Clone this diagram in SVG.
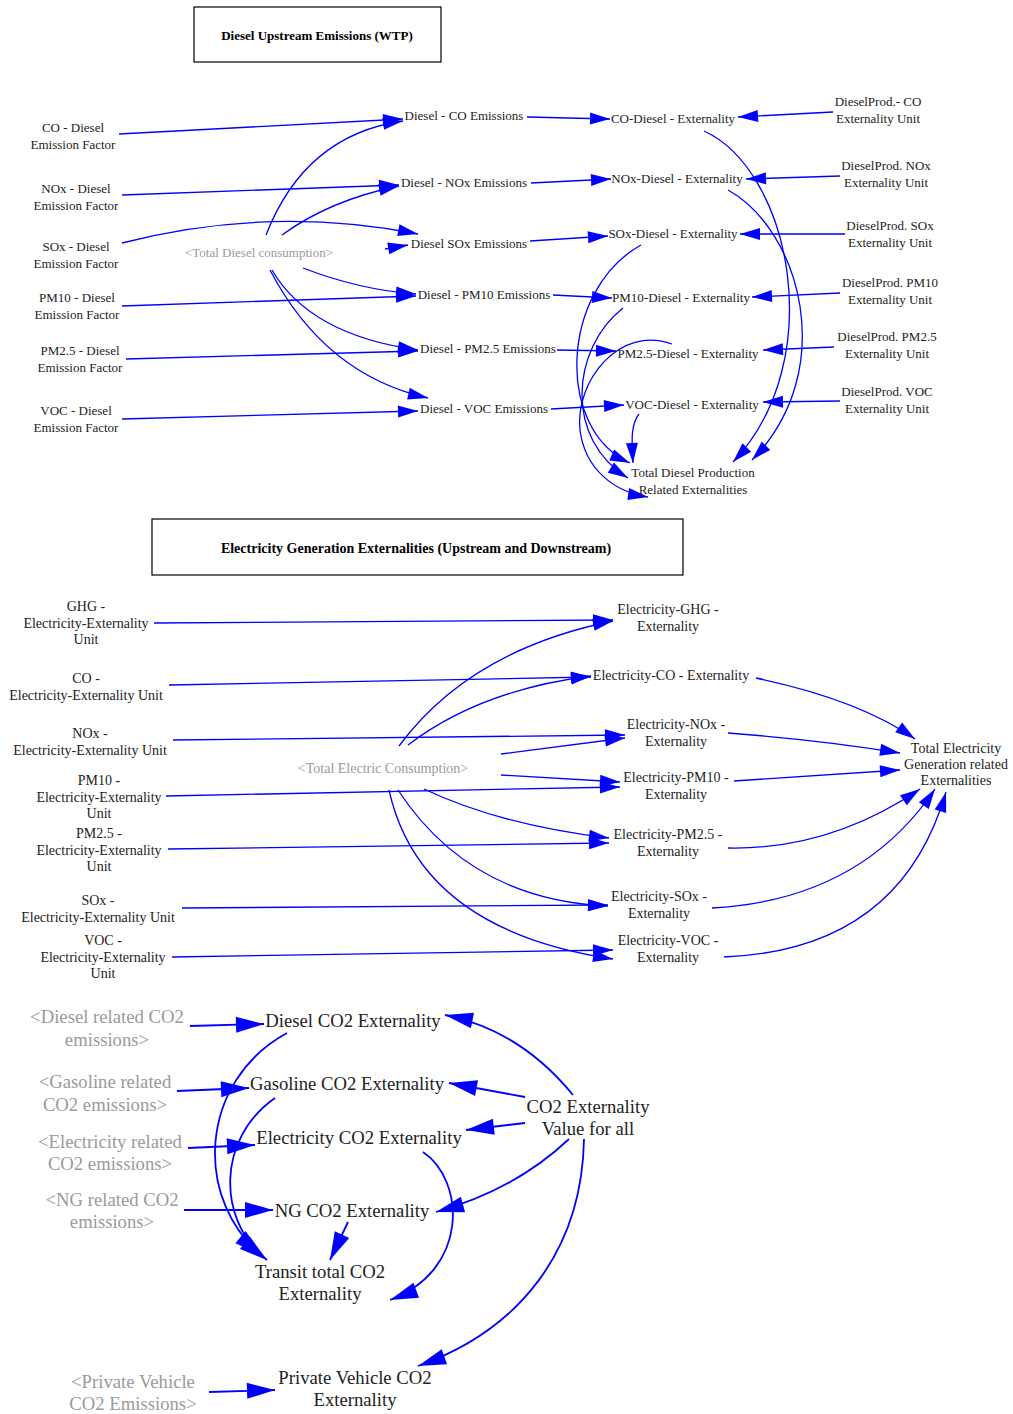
<svg xmlns="http://www.w3.org/2000/svg" width="1013" height="1414" viewBox="0 0 1013 1414">
<style>
text{font-family:"Liberation Serif","Times New Roman",serif;fill:#222;text-anchor:middle}
.s{font-size:13px}
.m{font-size:14px}
.l{font-size:18.7px}
.g{fill:#9a9a9a}
.t{font-size:13px;font-weight:bold;fill:#000}
.t2{font-size:14px;font-weight:bold;fill:#000}
.box{fill:none;stroke:#000;stroke-width:1.2}
.e{fill:none;stroke:#0000ff;stroke-width:1.3;marker-end:url(#a)}
.E{fill:none;stroke:#0000ff;stroke-width:1.8;marker-end:url(#b)}
</style>
<defs>
<marker id="a" markerUnits="userSpaceOnUse" markerWidth="20" markerHeight="12" refX="20" refY="6" orient="auto" overflow="visible"><path d="M0,0 L20,6 L0,12 z" fill="#0000ff"/></marker>
<marker id="b" markerUnits="userSpaceOnUse" markerWidth="28" markerHeight="16" refX="28" refY="8" orient="auto" overflow="visible"><path d="M0,0 L28,8 L0,16 z" fill="#0000ff"/></marker>
</defs>
<rect width="1013" height="1414" fill="#fff"/>

<g id="title1"><rect class="box" x="194" y="7" width="247" height="55"/><text class="t" x="317" y="40">Diesel Upstream Emissions (WTP)</text></g>
<g id="title2"><rect class="box" x="152" y="519" width="531" height="56"/><text class="t2" x="416" y="553">Electricity Generation Externalities (Upstream and Downstream)</text></g>

<g id="connectors">
<path class="e" d="M119,134 L403,119"/>
<path class="e" d="M122,195 L399,185"/>
<path class="e" d="M122,243 Q270,205 418,234"/>
<path class="e" d="M385,249 L408,245"/>
<path class="e" d="M266,235 Q305,135 403,121"/>
<path class="e" d="M282,235 Q330,200 399,186"/>
<path class="e" d="M303,268 Q360,290 416,294"/>
<path class="e" d="M272,270 Q310,335 418,350"/>
<path class="e" d="M270,270 Q325,375 428,398"/>
<path class="e" d="M122,306 L416,296"/>
<path class="e" d="M126,359 L418,351"/>
<path class="e" d="M122,419 L418,411"/>
<path class="e" d="M527,117 L610,119"/>
<path class="e" d="M531,183 L611,179"/>
<path class="e" d="M530,241 L608,236"/>
<path class="e" d="M553,295 L612,298"/>
<path class="e" d="M557,350 L616,351"/>
<path class="e" d="M551,409 L624,405"/>
<path class="e" d="M833,112 L738,117"/>
<path class="e" d="M840,176 L746,179"/>
<path class="e" d="M845,234 L740,234"/>
<path class="e" d="M840,293 L752,297"/>
<path class="e" d="M834,347 L763,350"/>
<path class="e" d="M840,401 L763,402"/>
<path class="e" d="M704,131 C790,170 830,360 733,462"/>
<path class="e" d="M728,190 C800,230 840,370 752,460"/>
<path class="e" d="M641,245 C560,290 555,430 630,463"/>
<path class="e" d="M623,308 C570,350 565,440 628,478"/>
<path class="e" d="M672,344 C620,325 575,380 580,430 C585,470 615,492 648,497"/>
<path class="e" d="M639,414 C630,425 632,445 633,463"/>

<path class="e" d="M154,623 L613,620"/>
<path class="e" d="M169,685 L591,677"/>
<path class="e" d="M173,740 L625,735"/>
<path class="e" d="M166,796 L620,787"/>
<path class="e" d="M168,849 L609,843"/>
<path class="e" d="M182,908 L608,905"/>
<path class="e" d="M172,957 L613,950"/>
<path class="e" d="M399,746 Q470,650 613,621"/>
<path class="e" d="M408,745 Q480,690 591,676"/>
<path class="e" d="M501,754 L625,738"/>
<path class="e" d="M501,775 L620,782"/>
<path class="e" d="M424,789 Q500,825 609,838"/>
<path class="e" d="M398,790 Q470,900 608,906"/>
<path class="e" d="M389,790 Q420,930 613,959"/>
<path class="e" d="M756,678 Q860,700 915,739"/>
<path class="e" d="M728,733 Q820,740 900,753"/>
<path class="e" d="M734,781 L900,770"/>
<path class="e" d="M728,848 Q830,850 920,789"/>
<path class="e" d="M712,908 Q860,900 935,789"/>
<path class="e" d="M724,957 Q900,950 946,792"/>

<path class="E" d="M190,1026 L264,1024"/>
<path class="E" d="M177,1091 L249,1088"/>
<path class="E" d="M188,1148 L255,1145"/>
<path class="E" d="M184,1210 L273,1210"/>
<path class="E" d="M209,1392 L275,1390"/>
<path class="E" d="M573,1095 Q520,1030 445,1015"/>
<path class="E" d="M525,1097 L449,1083"/>
<path class="E" d="M525,1123 L466,1130"/>
<path class="E" d="M569,1139 Q515,1190 436,1212"/>
<path class="E" d="M584,1139 C582,1250 520,1330 418,1366"/>
<path class="E" d="M423,1152 C465,1180 470,1270 390,1300"/>
<path class="E" d="M287,1033 C200,1080 190,1200 267,1260"/>
<path class="E" d="M275,1098 C215,1140 220,1220 262,1255"/>
<path class="E" d="M348,1222 L330,1260"/>
</g>

<g id="co_diesel_factor"><text class="s" x="73" y="132">CO - Diesel<tspan x="73" dy="17">Emission Factor</tspan></text></g>
<g id="nox_diesel_factor"><text class="s" x="76" y="193">NOx - Diesel<tspan x="76" dy="17">Emission Factor</tspan></text></g>
<g id="sox_diesel_factor"><text class="s" x="76" y="251">SOx - Diesel<tspan x="76" dy="17">Emission Factor</tspan></text></g>
<g id="pm10_diesel_factor"><text class="s" x="77" y="302">PM10 - Diesel<tspan x="77" dy="17">Emission Factor</tspan></text></g>
<g id="pm25_diesel_factor"><text class="s" x="80" y="355">PM2.5 - Diesel<tspan x="80" dy="17">Emission Factor</tspan></text></g>
<g id="voc_diesel_factor"><text class="s" x="76" y="415">VOC - Diesel<tspan x="76" dy="17">Emission Factor</tspan></text></g>
<g id="total_diesel_consumption"><text class="s g" x="259" y="257">&lt;Total Diesel consumption&gt;</text></g>

<g id="diesel_co_em"><text class="s" x="464" y="120">Diesel - CO Emissions</text></g>
<g id="diesel_nox_em"><text class="s" x="464" y="187">Diesel - NOx Emissions</text></g>
<g id="diesel_sox_em"><text class="s" x="469" y="248">Diesel SOx Emissions</text></g>
<g id="diesel_pm10_em"><text class="s" x="484" y="299">Diesel - PM10 Emissions</text></g>
<g id="diesel_pm25_em"><text class="s" x="488" y="353">Diesel - PM2.5 Emissions</text></g>
<g id="diesel_voc_em"><text class="s" x="484" y="413">Diesel - VOC Emissions</text></g>

<g id="co_diesel_ext"><text class="s" x="673" y="123">CO-Diesel - Externality</text></g>
<g id="nox_diesel_ext"><text class="s" x="677" y="183">NOx-Diesel - Externality</text></g>
<g id="sox_diesel_ext"><text class="s" x="673" y="238">SOx-Diesel - Externality</text></g>
<g id="pm10_diesel_ext"><text class="s" x="681" y="302">PM10-Diesel - Externality</text></g>
<g id="pm25_diesel_ext"><text class="s" x="688" y="358">PM2.5-Diesel - Externality</text></g>
<g id="voc_diesel_ext"><text class="s" x="692" y="409">VOC-Diesel - Externality</text></g>
<g id="total_diesel_ext"><text class="s" x="693" y="477">Total Diesel Production<tspan x="693" dy="17">Related Externalities</tspan></text></g>

<g id="dp_co_unit"><text class="s" x="878" y="106">DieselProd.- CO<tspan x="878" dy="17">Externality Unit</tspan></text></g>
<g id="dp_nox_unit"><text class="s" x="886" y="170">DieselProd. NOx<tspan x="886" dy="17">Externality Unit</tspan></text></g>
<g id="dp_sox_unit"><text class="s" x="890" y="230">DieselProd. SOx<tspan x="890" dy="17">Externality Unit</tspan></text></g>
<g id="dp_pm10_unit"><text class="s" x="890" y="287">DieselProd. PM10<tspan x="890" dy="17">Externality Unit</tspan></text></g>
<g id="dp_pm25_unit"><text class="s" x="887" y="341">DieselProd. PM2.5<tspan x="887" dy="17">Externality Unit</tspan></text></g>
<g id="dp_voc_unit"><text class="s" x="887" y="396">DieselProd. VOC<tspan x="887" dy="17">Externality Unit</tspan></text></g>

<g id="ghg_elec_unit"><text class="m" x="86" y="611">GHG -<tspan x="86" dy="16.5">Electricity-Externality</tspan><tspan x="86" dy="16.5">Unit</tspan></text></g>
<g id="co_elec_unit"><text class="m" x="86" y="683">CO -<tspan x="86" dy="17">Electricity-Externality Unit</tspan></text></g>
<g id="nox_elec_unit"><text class="m" x="90" y="738">NOx -<tspan x="90" dy="16.5">Electricity-Externality Unit</tspan></text></g>
<g id="pm10_elec_unit"><text class="m" x="99" y="785">PM10 -<tspan x="99" dy="16.5">Electricity-Externality</tspan><tspan x="99" dy="16.5">Unit</tspan></text></g>
<g id="pm25_elec_unit"><text class="m" x="99" y="838">PM2.5 -<tspan x="99" dy="16.5">Electricity-Externality</tspan><tspan x="99" dy="16.5">Unit</tspan></text></g>
<g id="sox_elec_unit"><text class="m" x="98" y="905">SOx -<tspan x="98" dy="16.5">Electricity-Externality Unit</tspan></text></g>
<g id="voc_elec_unit"><text class="m" x="103" y="945">VOC -<tspan x="103" dy="16.5">Electricity-Externality</tspan><tspan x="103" dy="16.5">Unit</tspan></text></g>
<g id="total_electric_consumption"><text class="m g" x="383" y="773">&lt;Total Electric Consumption&gt;</text></g>

<g id="elec_ghg_ext"><text class="m" x="668" y="614">Electricity-GHG -<tspan x="668" dy="16.5">Externality</tspan></text></g>
<g id="elec_co_ext"><text class="m" x="671" y="680">Electricity-CO - Externality</text></g>
<g id="elec_nox_ext"><text class="m" x="676" y="729">Electricity-NOx -<tspan x="676" dy="17">Externality</tspan></text></g>
<g id="elec_pm10_ext"><text class="m" x="676" y="782">Electricity-PM10 -<tspan x="676" dy="17">Externality</tspan></text></g>
<g id="elec_pm25_ext"><text class="m" x="668" y="839">Electricity-PM2.5 -<tspan x="668" dy="17">Externality</tspan></text></g>
<g id="elec_sox_ext"><text class="m" x="659" y="901">Electricity-SOx -<tspan x="659" dy="16.5">Externality</tspan></text></g>
<g id="elec_voc_ext"><text class="m" x="668" y="945">Electricity-VOC -<tspan x="668" dy="17">Externality</tspan></text></g>
<g id="total_elec_ext"><text class="m" x="956" y="753">Total Electricity<tspan x="956" dy="16">Generation related</tspan><tspan x="956" dy="16">Externalities</tspan></text></g>

<g id="diesel_co2_em"><text class="l g" x="107" y="1023">&lt;Diesel related CO2<tspan x="107" dy="23">emissions&gt;</tspan></text></g>
<g id="gasoline_co2_em"><text class="l g" x="105" y="1088">&lt;Gasoline related<tspan x="105" dy="23">CO2 emissions&gt;</tspan></text></g>
<g id="elec_co2_em"><text class="l g" x="110" y="1148">&lt;Electricity related<tspan x="110" dy="22">CO2 emissions&gt;</tspan></text></g>
<g id="ng_co2_em"><text class="l g" x="112" y="1206">&lt;NG related CO2<tspan x="112" dy="22">emissions&gt;</tspan></text></g>
<g id="pv_co2_em"><text class="l g" x="133" y="1388">&lt;Private Vehicle<tspan x="133" dy="22">CO2 Emissions&gt;</tspan></text></g>

<g id="diesel_co2_ext"><text class="l" x="353" y="1027">Diesel CO2 Externality</text></g>
<g id="gasoline_co2_ext"><text class="l" x="347" y="1090">Gasoline CO2 Externality</text></g>
<g id="elec_co2_ext"><text class="l" x="359" y="1144">Electricity CO2 Externality</text></g>
<g id="ng_co2_ext"><text class="l" x="352" y="1217">NG CO2 Externality</text></g>
<g id="transit_co2_ext"><text class="l" x="320" y="1278">Transit total CO2<tspan x="320" dy="22">Externality</tspan></text></g>
<g id="pv_co2_ext"><text class="l" x="355" y="1384">Private Vehicle CO2<tspan x="355" dy="22">Externality</tspan></text></g>
<g id="co2_value"><text class="l" x="588" y="1113">CO2 Externality<tspan x="588" dy="22">Value for all</tspan></text></g>
</svg>
